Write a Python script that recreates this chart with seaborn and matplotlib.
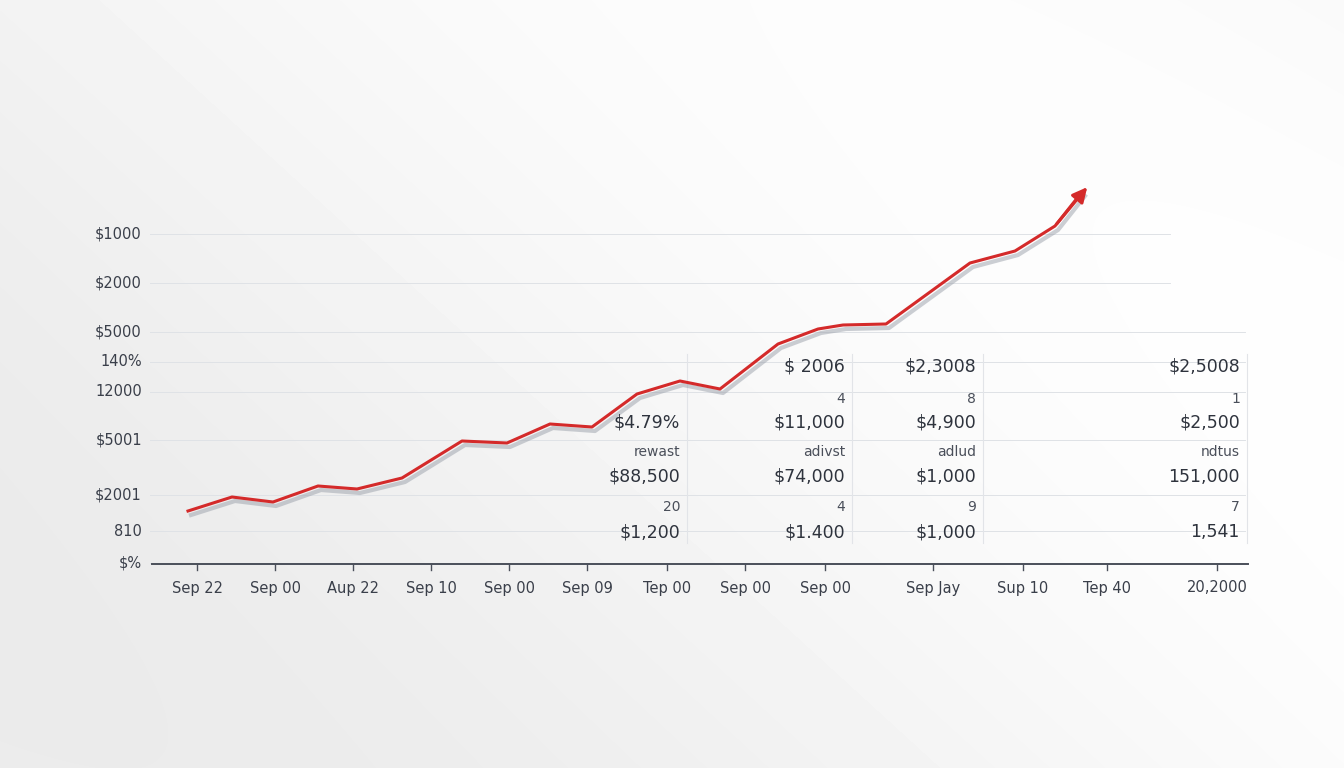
import numpy as np
import pandas as pd
import matplotlib
matplotlib.use("Agg")
import matplotlib.pyplot as plt
import seaborn as sns

# line readings (horizontal position, height above baseline)
line_x = [188, 232, 273, 318, 357, 402, 462, 507, 550, 592, 637, 680, 720,
          778, 818, 843, 886, 970, 1015, 1055, 1082]
line_v = [53, 67, 62, 78, 75, 86, 123, 121, 140, 137, 170, 183, 175,
          220, 235, 239, 240, 301, 313, 338, 372]

ytick_labels = ["$1000", "$2000", "$5000", "140%", "12000", "$5001", "$2001", "810", "$%"]
ytick_vals = [330, 281, 232, 202, 172, 124, 69, 33, 1]

xtick_labels = ["Sep 22", "Sep 00", "Aup 22", "Sep 10", "Sep 00", "Sep 09", "Tep 00",
                "Sep 00", "Sep 00", "Sep Jay", "Sup 10", "Tep 40", "20,2000"]
xtick_pos = [197, 275, 353, 431, 509, 587, 667, 745, 825, 933, 1023, 1107, 1217]

table_rows = [
    ["", "$ 2006", "$2,3008", "$2,5008"],
    ["", "4", "8", "1"],
    ["$4.79%", "$11,000", "$4,900", "$2,500"],
    ["rewast", "adivst", "adlud", "ndtus"],
    ["$88,500", "$74,000", "$1,000", "151,000"],
    ["20", "4", "9", "7"],
    ["$1,200", "$1.400", "$1,000", "1,541"],
]
row_v = [198, 165, 141, 112, 87, 57, 32]
col_x = [680, 845, 976, 1240]
big_rows = [0, 2, 4, 6]

BASE = 564
fig = plt.figure(figsize=(13.44, 7.68), dpi=100)

# background gradient
bg = fig.add_axes([0, 0, 1, 1])
yy, xx = np.mgrid[0:768, 0:1344]
grad = 0.95 + 0.03 * np.sin((xx - yy * 1.3) / 500.0) + 0.015 * (xx / 1344)
bg.imshow(grad, cmap="gray", vmin=0, vmax=1, aspect="auto")
bg.axis("off")

ax = fig.add_axes([0, 0, 1, 1])
ax.set_xlim(0, 1344)
ax.set_ylim(BASE - 768, BASE)

for i, (v, lab) in enumerate(zip(ytick_vals, ytick_labels)):
    right = 1170 if i < 2 else 1245
    ax.plot([150, right], [v, v], color="#dfe2e6", lw=0.7, zorder=1)
    ax.text(142, v, lab, ha="right", va="center", fontsize=10.5, color="#3a3f4a")
ax.plot([152, 1248], [0, 0], color="#4a4f5a", lw=1.4, zorder=2)
for p, lab in zip(xtick_pos, xtick_labels):
    ax.plot([p, p], [0, -6], color="#4a4f5a", lw=1)
    ax.text(p, -24, lab, ha="center", va="center", fontsize=10.5, color="#3a3f4a")

df = pd.DataFrame({"x": line_x, "v": line_v})
shadow = df.assign(x=df.x + 3, v=df.v - 4)
sns.lineplot(data=shadow, x="x", y="v", ax=ax, color="#9aa0aa", lw=3, alpha=0.5, zorder=3)
sns.lineplot(data=df, x="x", y="v", ax=ax, color="#d42a2a", lw=2.2, zorder=4)
ax.annotate("", xy=(line_x[-1] + 7, line_v[-1] + 7), xytext=(line_x[-2], line_v[-2]),
            arrowprops=dict(arrowstyle="-|>", color="#d42a2a", lw=2.2, mutation_scale=22), zorder=5)
ax.set_xlabel("")
ax.set_ylabel("")
ax.axis("off")

for sx in [687, 852, 983, 1247]:
    ax.plot([sx, sx], [21, 210], color="#e2e4e8", lw=0.8, zorder=1)
for k, (r, v) in enumerate(zip(table_rows, row_v)):
    big = k in big_rows
    for c, x in zip(r, col_x):
        ax.text(x, v, c, ha="right", va="center", fontsize=12.5 if big else 10,
                color="#2e333d" if big else "#4a4f5a", zorder=6)

fig.savefig("out.png", dpi=100)
